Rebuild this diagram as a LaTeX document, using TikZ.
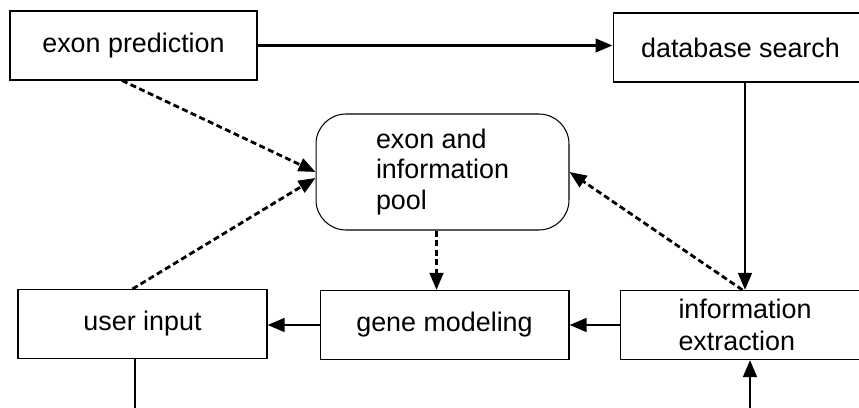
\documentclass[tikz,border=0pt]{standalone}
\usepackage{fontspec}
\setmainfont{Liberation Sans}
\usetikzlibrary{arrows.meta,positioning,calc}
\tikzset{
  procbox/.style={draw, line width=0.6pt, minimum height=1.38cm, align=left,
                  font=\fontsize{15.3}{18}\selectfont, inner sep=0pt},
  poolbox/.style={draw, line width=0.6pt, rounded corners=0.6cm, align=left,
                  minimum width=5.06cm, minimum height=2.32cm,
                  font=\fontsize{15.3}{17.5}\selectfont, inner sep=0pt},
  flow/.style={line width=1.6pt, -{Triangle[length=0.34cm, width=0.27cm]}},
  dashflow/.style={flow, dash pattern=on 0.12cm off 0.07cm},
}

\begin{document}
\begin{tikzpicture}[x=0.02cm, y=-0.02cm]
    \clip (0,0) rectangle (859,408);
    \node[procbox, minimum width=4.94cm] (exonpred) at (133.5,45.5) {exon prediction};
    \node[procbox, minimum width=5.1cm]  (dbsearch) at (740.5,47.5) {database search};
    \node[poolbox] (pool) at (442.5,172) {exon and\\information\\pool};
    \node[procbox, minimum width=4.98cm] (userin)  at (142.5,324) {user input};
    \node[procbox, minimum width=4.98cm] (genemod) at (444.5,325) {gene modeling};
    \node[procbox, minimum width=5cm]    (infoext) at (745,325) {information\\extraction};
    \coordinate (uibot) at (135,412);
    \coordinate (iebot) at (750,412);
    % solid flow
    \draw[flow] (exonpred.east) -- (exonpred.east -| dbsearch.west);
    \draw[flow] (infoext.north |- dbsearch.south) -- (infoext.north);
    \draw[flow] (genemod.west) -- (genemod.west -| userin.east);
    \draw[flow] (infoext.west) -- (genemod.east);
    \draw[line width=1.6pt] (userin.south -| uibot) -- (uibot);
    \draw[flow] (iebot) -- (iebot |- infoext.south);
    % dashed flow into and out of the pool
    \draw[dashflow] ([xshift=-0.23cm]exonpred.south) -- (pool.west);
    \draw[dashflow] ([xshift=-0.2cm]userin.north) -- ([yshift=-0.12cm]pool.west);
    \draw[dashflow] ([xshift=-0.12cm]pool.south) -- ([xshift=-0.12cm]pool.south |- genemod.north);
    \draw[dashflow] ([xshift=-0.05cm]infoext.north) -- (pool.east);
\end{tikzpicture}
\end{document}
